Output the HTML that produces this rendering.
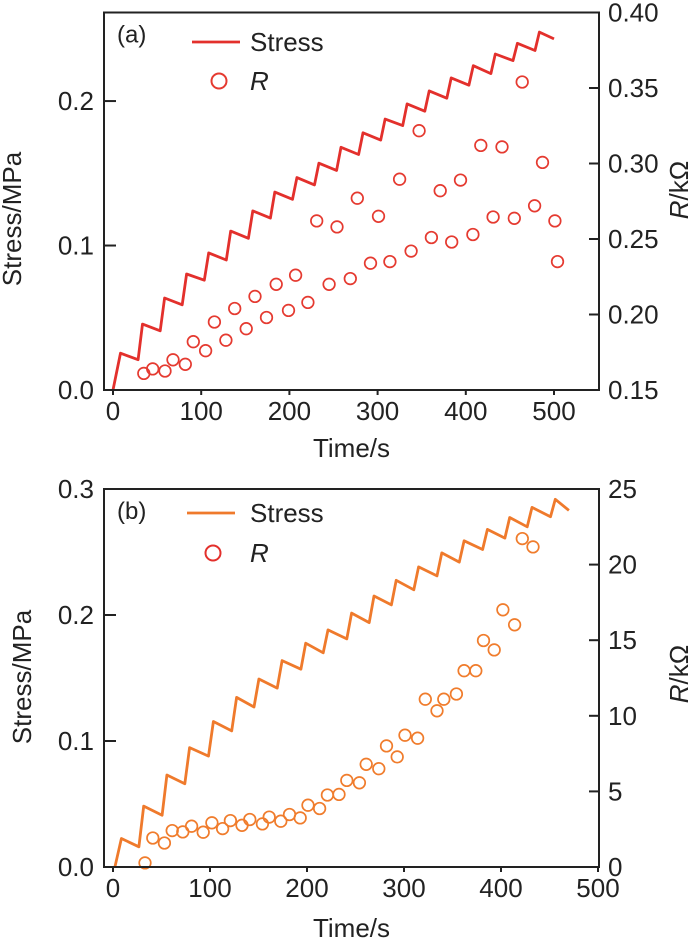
<!DOCTYPE html>
<html><head><meta charset="utf-8"><style>
html,body{margin:0;padding:0;background:#fff}
svg text{font-family:"Liberation Sans",Arial,sans-serif;fill:#222}
</style></head><body>
<svg id="fig" width="700" height="939" viewBox="0 0 700 939" xmlns="http://www.w3.org/2000/svg"></svg>
<script>
// ---- Panel (a) data ----
const aPeakT=[8.5,33.5,58.5,83.5,108.5,133.5,158.5,183.5,208.5,233.5,258.5,283.5,308.5,333.5,358.5,383.5,408.5,433.5,458.5,483.5];
const aPeakV=[0.0255,0.0456,0.0637,0.0803,0.0949,0.110,0.124,0.137,0.147,0.157,0.168,0.178,0.1875,0.198,0.207,0.216,0.2245,0.2326,0.240,0.2477];
const aTroughT=[28.5,53.5,78.5,103.5,128.5,153.5,178.5,203.5,228.5,253.5,278.5,303.5,328.5,353.5,378.5,403.5,428.5,453.5,478.5,500];
const aTroughV=[0.021,0.041,0.059,0.076,0.090,0.105,0.119,0.132,0.142,0.152,0.163,0.173,0.183,0.193,0.202,0.211,0.219,0.228,0.235,0.243];
const aRT=[34.9,45,59,68,82,91,105,115,128,138,151,161,174,185,199,207,221,231,245,254,269,277,292,301,314,325,338,347,361,371,384,394,408,417,431,441,455,464,478,487,501,504];
const aRV=[0.161,0.164,0.1626,0.170,0.167,0.182,0.176,0.195,0.183,0.204,0.1906,0.212,0.198,0.220,0.2027,0.226,0.208,0.262,0.220,0.258,0.2238,0.277,0.234,0.265,0.235,0.2896,0.242,0.3217,0.251,0.282,0.248,0.289,0.253,0.312,0.2646,0.311,0.2637,0.354,0.272,0.3007,0.262,0.235];
const aXTicks=[0,100,200,300,400,500];
const aLTicks=["0.0","0.1","0.2"];
const aRTicks=["0.15","0.20","0.25","0.30","0.35","0.40"];
// ---- Panel (b) data ----
const bPeakT=[8.7,31.7,55.6,79,103.5,127.4,150.4,174.3,198.7,221.7,246,269.1,292,315.1,339,362,386,409,432,456];
const bPeakV=[0.0226,0.0483,0.0730,0.0948,0.1155,0.1346,0.1492,0.1638,0.1776,0.1882,0.2015,0.2151,0.2275,0.2382,0.2493,0.2589,0.2679,0.2774,0.2854,0.2918];
const bTroughT=[26.7,50.6,74,98.5,122.4,145.4,169.3,193.7,216.7,241,264.1,287,310.1,334,357,381,404,427,451,470];
const bTroughV=[0.016,0.041,0.066,0.088,0.108,0.127,0.142,0.157,0.170,0.181,0.194,0.208,0.220,0.231,0.242,0.252,0.261,0.270,0.278,0.283];
const bRT=[33,41,53,61,72,81,93,102,113,121,133,141,154,161,173,182,193,201,213,221,233,241,254,261,274,282,293,301,314,322,334,341,354,362,374,382,393,402,414,422,433];
const bRV=[0.27,1.92,1.59,2.41,2.32,2.70,2.30,2.92,2.54,3.07,2.76,3.14,2.85,3.30,3.03,3.47,3.25,4.09,3.87,4.76,4.80,5.73,5.57,6.79,6.50,8.01,7.28,8.72,8.52,11.1,10.33,11.1,11.44,12.98,12.98,14.98,14.36,17.01,16.02,21.72,21.17];
const bXTicks=[0,100,200,300,400,500];
const bLTicks=["0.0","0.1","0.2","0.3"];
const bRTicks=["0","5","10","15","20","25"];

const NS="http://www.w3.org/2000/svg";
const svg=document.getElementById('fig');
const FS=26;
function mk(tag,attrs,parent){const e=document.createElementNS(NS,tag);for(const k in attrs)e.setAttribute(k,attrs[k]);(parent||svg).appendChild(e);return e;}

function panel(cfg){
  const g=mk('g',{});
  
  
  const X=t=>cfg.x0+(t-0)*(cfg.x500-cfg.x0)/500;
  const YL=v=>cfg.bottom-(v-cfg.lMin)/(cfg.lMax-cfg.lMin)*(cfg.bottom-cfg.top);
  const YR=v=>cfg.bottom-(v-cfg.rMin)/(cfg.rMax-cfg.rMin)*(cfg.bottom-cfg.top);
  let pts=[[X(cfg.startT),YL(0)]];
  for(let i=0;i<cfg.pT.length;i++){pts.push([X(cfg.pT[i]),YL(cfg.pV[i])]);pts.push([X(cfg.tT[i]),YL(cfg.tV[i])]);}
  const line=mk('polyline',{points:pts.map(p=>p[0].toFixed(1)+','+p[1].toFixed(1)).join(' '),fill:'none',stroke:cfg.lineColor,'stroke-width':2.8,'stroke-linejoin':'round'},g);
  
  
  for(let i=0;i<cfg.rT.length;i++){
    const c=mk('circle',{cx:X(cfg.rT[i]).toFixed(1),cy:YR(cfg.rV[i]).toFixed(1),r:5.8,fill:'none',stroke:cfg.markColor,'stroke-width':1.7},g);
    
    
  }
  const f=mk('rect',{x:cfg.left,y:cfg.top,width:cfg.right-cfg.left,height:cfg.bottom-cfg.top,fill:'none',stroke:'#222','stroke-width':2},g);
  
  
  cfg.xTicks.forEach(t=>{
    mk('line',{x1:X(t),x2:X(t),y1:cfg.bottom,y2:cfg.bottom+5,stroke:'#222','stroke-width':2},g);
    const tx=mk('text',{x:X(t),y:cfg.bottom+30,'text-anchor':'middle','font-size':FS},g);
    tx.textContent=t;
    
    
  });
  cfg.lTicks.forEach(s=>{
    const y=YL(parseFloat(s));
    mk('line',{x1:cfg.left,x2:cfg.left+12,y1:y,y2:y,stroke:'#222','stroke-width':2},g);
    const tx=mk('text',{x:cfg.left-10,y:y+9,'text-anchor':'end','font-size':FS},g);
    tx.textContent=s;
    
    
  });
  cfg.rTicks.forEach(s=>{
    const y=YR(parseFloat(s));
    mk('line',{x1:cfg.right-10,x2:cfg.right,y1:y,y2:y,stroke:'#222','stroke-width':2},g);
    const tx=mk('text',{x:cfg.right+9,y:y+9,'text-anchor':'start','font-size':FS},g);
    tx.textContent=s;
    
    
  });
  const xt=mk('text',{x:(cfg.left+cfg.right)/2,y:cfg.xTitleY,'text-anchor':'middle','font-size':FS},g);
  xt.textContent='Time/s';
  
  
  const lt=mk('text',{x:0,y:0,'text-anchor':'middle','font-size':FS,transform:`translate(${cfg.lTitleX},${cfg.lTitleY}) rotate(-90)`},g);
  lt.textContent='Stress/MPa';
  
  
  const rt=mk('text',{x:0,y:0,'text-anchor':'middle','font-size':FS,transform:`translate(${cfg.rTitleX},${cfg.rTitleY}) rotate(-90)`},g);
  rt.innerHTML='<tspan font-style="italic">R</tspan>/kΩ';
  
  
  const pl=mk('text',{x:cfg.left+13,y:cfg.top+30,'font-size':24},g);
  pl.textContent=cfg.label;
  
  
  const lg=mk('g',{},g);
  
  
  mk('line',{x1:cfg.legX1,x2:cfg.legX1+48,y1:cfg.legY1,y2:cfg.legY1,stroke:cfg.lineColor,'stroke-width':2.8},lg);
  const l1=mk('text',{x:250,y:cfg.legY1+9,'font-size':FS},lg);
  l1.textContent='Stress';
  
  
  mk('circle',{cx:cfg.legCX,cy:cfg.legY2,r:7.5,fill:'none',stroke:cfg.legMarkColor,'stroke-width':2},lg);
  const l2=mk('text',{x:250,y:cfg.legY2+9,'font-size':FS,'font-style':'italic'},lg);
  l2.textContent='R';
  
  
}

panel({name:'panel-a',left:104,right:599,top:12.5,bottom:390,x0:113,x500:554,lMin:0,lMax:0.2613,rMin:0.15,rMax:0.40,
  startT:0,pT:aPeakT,pV:aPeakV,tT:aTroughT,tV:aTroughV,rT:aRT,rV:aRV,lineColor:'#e3302c',markColor:'#e53a30',legMarkColor:'#e53a30',
  xTicks:aXTicks,lTicks:aLTicks,rTicks:aRTicks,label:'(a)',xTitleY:457,lTitleX:21,lTitleY:219,rTitleX:688,rTitleY:190,
  legX1:192,legY1:42,legCX:219,legY2:81});
panel({name:'panel-b',left:104,right:599,top:489,bottom:867,x0:113,x500:598,lMin:0,lMax:0.3,rMin:0,rMax:25,
  startT:2,pT:bPeakT,pV:bPeakV,tT:bTroughT,tV:bTroughV,rT:bRT,rV:bRV,lineColor:'#ef7a2c',markColor:'#f07c2c',legMarkColor:'#e3302c',
  xTicks:bXTicks,lTicks:bLTicks,rTicks:bRTicks,label:'(b)',xTitleY:937,lTitleX:31,lTitleY:677,rTitleX:688,rTitleY:674,
  legX1:187,legY1:513,legCX:213,legY2:553});
</script>
</body></html>
